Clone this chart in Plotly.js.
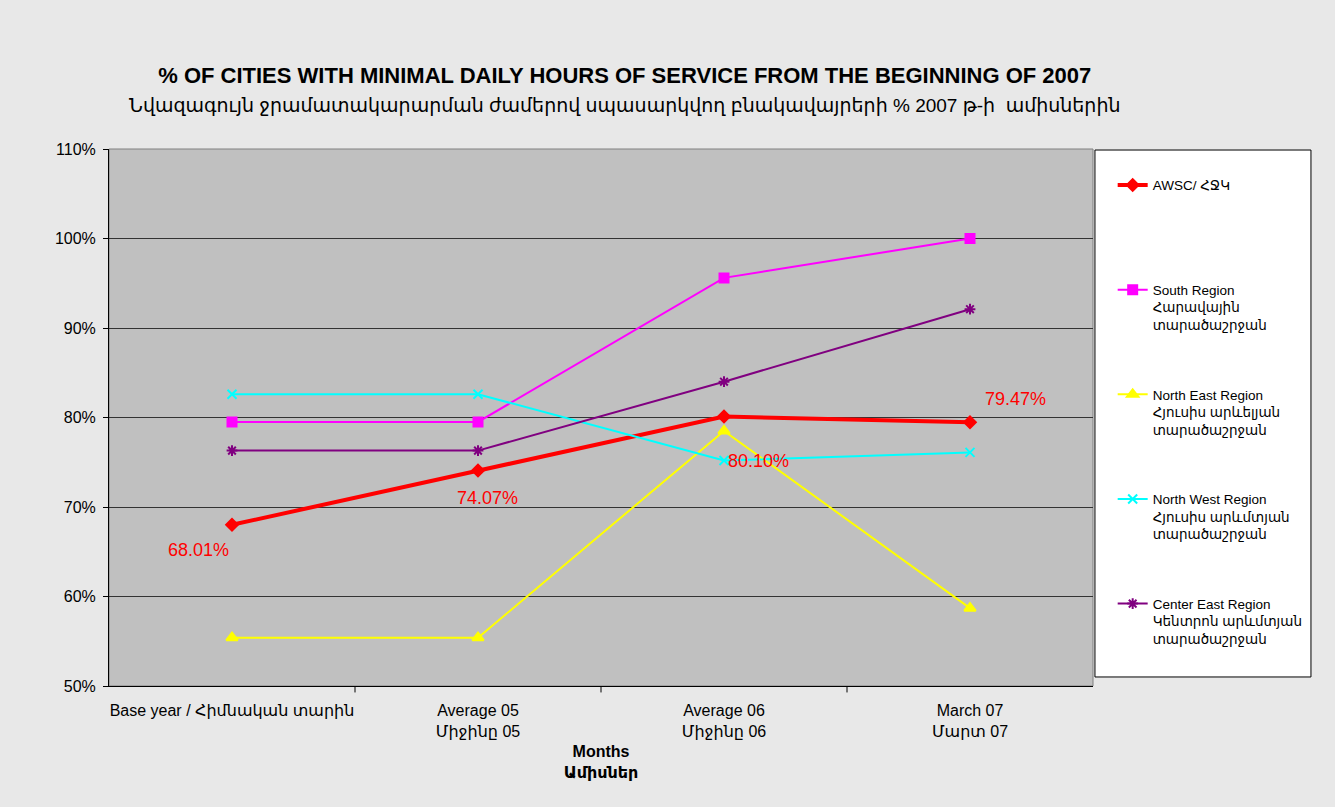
<!DOCTYPE html>
<html>
<head>
<meta charset="utf-8">
<script src="https://cdn.plot.ly/plotly-3.0.1.min.js"></script>
<style>html,body{margin:0;padding:0;background:#e8e8e8;}#chart{width:1335px;height:807px;}</style>
</head>
<body>
<div id="chart"></div>
<script>
// ---- data ----
const categories = ["Base year / Հիմնական տարին", "Average 05<br>Միջինը 05", "Average 06<br>Միջինը 06", "March 07<br>Մարտ 07"];
const awsc = [68.01, 74.07, 80.10, 79.47];
const south = [79.5, 79.5, 95.6, 100.0];
const northEast = [55.4, 55.4, 78.5, 58.7];
const northWest = [82.6, 82.6, 75.2, 76.1];
const centerEast = [76.3, 76.3, 84.0, 92.1];
const seriesNames = [
  "AWSC/ ՀՋԿ<br> <br> ",
  "South Region<br>Հարավային<br>տարածաշրջան",
  "North East Region<br>Հյուսիս արևելյան<br>տարածաշրջան",
  "North West Region<br>Հյուսիս արևմտյան<br>տարածաշրջան",
  "Center East Region<br>Կենտրոն արևմտյան<br>տարածաշրջան"
];
const yTicks = [50, 60, 70, 80, 90, 100, 110];
const yTickLabels = ["50%", "60%", "70%", "80%", "90%", "100%", "110%"];

const FONT = "Liberation Sans, Arial, DejaVu Sans, sans-serif";
const cats = [0, 1, 2, 3];

function tr(name, y, color, width, symbol, size, grp) {
  return {
    x: cats, y: y, name: name, type: "scatter", mode: "lines+markers",
    line: {color: color, width: width},
    marker: {symbol: symbol, size: size, color: color, line: {color: color, width: 2}},
    legendgroup: grp, cliponaxis: false, hoverinfo: "x+y"
  };
}
const data = [
  tr(seriesNames[0], awsc, "#FF0000", 4, "diamond", 9, "a"),
  tr(seriesNames[1], south, "#FF00FF", 2, "square", 9, "b"),
  tr(seriesNames[2], northEast, "#FFFF00", 2, "triangle-up", 10, "c"),
  tr(seriesNames[3], northWest, "#00FFFF", 2, "x-thin-open", 9, "d"),
  tr(seriesNames[4], centerEast, "#800080", 2, "asterisk-open", 9, "e")
];

// data labels for AWSC (label offsets are styling only)
const labelShiftX = [-34, 9, 34, 45];
const labelShiftY = [-25, -27, -44, 23];
const annotations = awsc.map((v, i) => ({
  x: cats[i], y: v, xref: "x", yref: "y", text: v.toFixed(2) + "%",
  showarrow: false, xshift: labelShiftX[i], yshift: labelShiftY[i],
  font: {family: FONT, size: 18, color: "#FF0000"}
}));

const layout = {
  width: 1335, height: 807,
  paper_bgcolor: "#e8e8e8", plot_bgcolor: "#C0C0C0",
  margin: {l: 109, r: 242, t: 149, b: 121},
  font: {family: FONT, size: 16, color: "#000"},
  title: {
    text: "<b>% OF CITIES WITH MINIMAL DAILY HOURS OF SERVICE FROM THE BEGINNING OF 2007</b><br><span style=\"font-size:19px\">Նվազագույն ջրամատակարարման ժամերով սպասարկվող բնակավայրերի % 2007 թ-ի  ամիսներին</span>",
    font: {family: FONT, size: 22, color: "#000"},
    x: 0.468, xanchor: "center", y: 0.897, yanchor: "middle"
  },
  xaxis: {
    type: "linear", range: [-0.5, 3.5],
    tickmode: "array", tickvals: cats, ticktext: categories,
    ticks: "", showgrid: false, zeroline: false,
    showline: true, linecolor: "#000", linewidth: 1,
    tickfont: {family: FONT, size: 16}, ticklabelstandoff: 10,
    title: {text: "<b>Months<br>Ամիսներ</b>", font: {family: FONT, size: 16}, standoff: 6},
    automargin: false
  },
  yaxis: {
    range: [50, 110], tickmode: "array", tickvals: yTicks, ticktext: yTickLabels,
    ticks: "outside", ticklen: 5, tickcolor: "#000", ticklabelstandoff: 4,
    showgrid: true, gridcolor: "#333", gridwidth: 1, zeroline: false,
    showline: true, linecolor: "#000", linewidth: 1,
    tickfont: {family: FONT, size: 16}, automargin: false
  },
  showlegend: true,
  legend: {
    x: 1.02, xanchor: "left", y: 0.9614, yanchor: "top",
    bgcolor: "rgba(0,0,0,0)", borderwidth: 0,
    font: {family: FONT, size: 13.5, color: "#000"},
    traceorder: "grouped", tracegroupgap: 49, valign: "top"
  },
  shapes: [
    {type: "rect", xref: "paper", yref: "paper", x0: 0, x1: 1, y0: 0, y1: 1, line: {color: "#808080", width: 1}, layer: "below"},
    {type: "rect", xref: "paper", yref: "paper", x0: 1.002, x1: 1.2215, y0: 0.0168, y1: 0.9981, fillcolor: "#FFFFFF", line: {color: "#000", width: 1}, layer: "below"}
  ].concat([0.5, 1.5, 2.5].map(b => ({
    type: "line", xref: "x", yref: "paper", x0: b, x1: b, y0: 0, y1: -0.012, line: {color: "#000", width: 1}
  }))),
  annotations: annotations
};

Plotly.newPlot("chart", data, layout, {displayModeBar: false, staticPlot: true});
</script>
</body>
</html>
